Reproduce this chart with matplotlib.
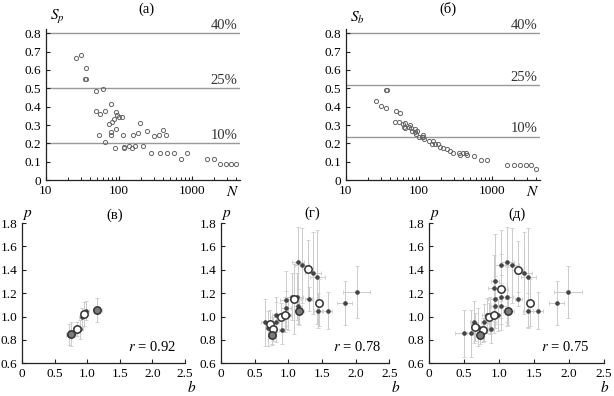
import numpy as np
import matplotlib.pyplot as plt
from matplotlib.ticker import FixedLocator, FixedFormatter, NullFormatter

plt.rcParams['font.family'] = ['Liberation Serif', 'DejaVu Serif']
plt.rcParams['mathtext.fontset'] = 'stix'
plt.rcParams['font.size'] = 9

W, H = 614, 396

# ---- (а): S_p vs N
n_a = [26, 30, 36, 34.5, 35.5, 48, 60.5, 49, 54.5, 64, 53, 65, 72, 77, 77,
       77, 80, 85.5, 91, 94, 91, 88, 99, 110, 113.5, 116, 116, 137, 150, 155,
       164, 182, 195, 210, 238, 270, 297, 359, 355, 398, 433, 451, 556, 693,
       846, 1585, 1972, 2360, 2850, 3370, 3980]
sp_a = [0.664, 0.682, 0.613, 0.553, 0.553, 0.484, 0.496, 0.376, 0.362, 0.376,
        0.245, 0.209, 0.307, 0.415, 0.264, 0.245, 0.316, 0.331, 0.373, 0.355,
        0.278, 0.175, 0.342, 0.345, 0.245, 0.182, 0.173, 0.187, 0.176, 0.245,
        0.187, 0.255, 0.309, 0.187, 0.269, 0.145, 0.238, 0.145, 0.245, 0.273,
        0.245, 0.145, 0.145, 0.116, 0.145, 0.116, 0.116, 0.089, 0.089, 0.089,
        0.089]
lines_a = [0.8, 0.5, 0.2]

# ---- (б): S_b vs N
n_b = [26, 30, 35, 37, 36, 48, 54.5, 47.5, 53, 61, 65, 63, 65, 72, 76, 78, 81,
       87, 89, 91, 94, 100, 110, 112, 116, 114, 137, 153, 150, 164, 179, 195,
       210, 238, 267, 293, 351, 359, 398, 433, 446, 556, 693, 846, 1585, 1950,
       2360, 2850, 3370, 3980]
sb_b = [0.433, 0.404, 0.489, 0.489, 0.393, 0.375, 0.365, 0.318, 0.318, 0.307,
        0.309, 0.291, 0.282, 0.291, 0.300, 0.282, 0.269, 0.280, 0.264, 0.251,
        0.265, 0.235, 0.233, 0.245, 0.222, 0.236, 0.215, 0.215, 0.196, 0.196,
        0.195, 0.182, 0.176, 0.169, 0.160, 0.149, 0.149, 0.138, 0.149, 0.149,
        0.138, 0.129, 0.109, 0.109, 0.082, 0.082, 0.082, 0.082, 0.082, 0.062]
lines_b = [0.8, 0.518, 0.236]

pct_labels = ['40%', '25%', '10%']
top_yticks = [0, 0.1, 0.2, 0.3, 0.4, 0.5, 0.6, 0.7, 0.8]
top_ylabels = ['0', '0.1', '0.2', '0.3', '0.4', '0.5', '0.6', '0.7', '0.8']

# ---- (в)
v_dot_b = [0.71, 0.886, 0.912, 0.978]
v_dot_p = [0.843, 0.891, 0.994, 1.049]
v_dot_xe = [0.04, 0.05, 0.04, 0.04]
v_dot_ye = [0.09, 0.08, 0.08, 0.08]
v_open_b = [0.835, 0.948]
v_open_p = [0.894, 1.023]
v_open_xe = [0.06, 0.04]
v_open_ye = [0.06, 0.1]
v_grey_b = [0.748, 1.153]
v_grey_p = [0.849, 1.057]
v_grey_xe = [0.07, 0.07]
v_grey_ye = [0.1, 0.1]

# ---- (г)
g_dot_b = [0.653, 0.70, 0.817, 0.817, 0.752, 0.90, 0.965, 0.96, 0.99, 1.06,
           1.124, 1.149, 1.20, 1.371, 1.43, 1.30, 1.14, 1.446, 1.584, 1.84, 2.015]
g_dot_p = [0.951, 0.90, 0.951, 1.014, 0.877, 0.886, 1.071, 1.143, 1.014, 1.171,
           1.171, 1.466, 1.437, 1.371, 1.337, 1.149, 1.086, 1.05, 1.05, 1.114, 1.209]
g_dot_xe = [0.06, 0.04, 0.05, 0.06, 0.04, 0.04, 0.07, 0.08, 0.05, 0.1,
            0.1, 0.09, 0.1, 0.12, 0.11, 0.05, 0.06, 0.06, 0.07, 0.11, 0.2]
g_dot_ye = [0.2, 0.15, 0.17, 0.15, 0.12, 0.12, 0.15, 0.25, 0.13, 0.2,
            0.2, 0.3, 0.32, 0.35, 0.4, 0.1, 0.15, 0.15, 0.16, 0.19, 0.22]
g_open_b = [0.728, 0.777, 0.89, 0.95, 1.09, 1.29, 1.46]
g_open_p = [0.937, 0.894, 1.0, 1.014, 1.149, 1.406, 1.12]
g_open_xe = [0.05, 0.04, 0.05, 0.05, 0.1, 0.08, 0.05]
g_open_ye = [0.12, 0.1, 0.12, 0.15, 0.3, 0.25, 0.2]
g_grey_b = [0.752, 1.158]
g_grey_p = [0.843, 1.05]
g_grey_xe = [0.04, 0.08]
g_grey_ye = [0.08, 0.12]

# ---- (д)
d_dot_b = [0.50, 0.595, 0.64, 0.70, 0.786, 0.824, 0.886, 0.87, 0.98, 0.943,
           0.938, 0.93, 0.943, 1.024, 1.03, 1.03, 1.114, 1.119, 1.18, 1.357,
           1.419, 1.276, 1.11, 1.419, 1.562, 1.824, 1.99]
d_dot_p = [0.857, 0.857, 0.95, 0.91, 0.95, 1.01, 0.891, 1.01, 1.014, 1.086,
           1.149, 1.243, 1.306, 1.437, 1.171, 1.086, 1.171, 1.466, 1.437, 1.371,
           1.334, 1.149, 1.05, 1.05, 1.05, 1.114, 1.209]
d_dot_xe = [0.13, 0.05, 0.06, 0.05, 0.05, 0.06, 0.04, 0.05, 0.05, 0.06,
            0.1, 0.09, 0.06, 0.1, 0.1, 0.08, 0.09, 0.09, 0.1, 0.12,
            0.11, 0.05, 0.06, 0.07, 0.07, 0.11, 0.2]
d_dot_ye = [0.2, 0.2, 0.18, 0.16, 0.16, 0.15, 0.12, 0.16, 0.14, 0.15,
            0.2, 0.28, 0.4, 0.3, 0.18, 0.2, 0.25, 0.3, 0.32, 0.35,
            0.42, 0.06, 0.1, 0.15, 0.16, 0.19, 0.22]
d_open_b = [0.66, 0.77, 0.86, 0.93, 1.03, 1.267, 1.443]
d_open_p = [0.91, 0.886, 1.0, 1.01, 1.234, 1.40, 1.12]
d_open_xe = [0.05, 0.04, 0.05, 0.05, 0.1, 0.08, 0.05]
d_open_ye = [0.12, 0.1, 0.12, 0.15, 0.3, 0.25, 0.2]
d_grey_b = [0.73, 1.13]
d_grey_p = [0.843, 1.05]
d_grey_xe = [0.04, 0.08]
d_grey_ye = [0.08, 0.12]

bot_xticks = [0, 0.5, 1.0, 1.5, 2.0, 2.5]
bot_xlabels = ['0', '0.5', '1.0', '1.5', '2.0', '2.5']
bot_yticks = [0.6, 0.8, 1.0, 1.2, 1.4, 1.6, 1.8]
bot_ylabels = ['0.6', '0.8', '1.0', '1.2', '1.4', '1.6', '1.8']


def px_rect(x0, y0, x1, y1):
  return [x0 / W, 1 - y1 / H, (x1 - x0) / W, (y1 - y0) / H]


def style_axes(ax):
  for s in ['top', 'right']:
    ax.spines[s].set_visible(False)
  for s in ['left', 'bottom']:
    ax.spines[s].set_linewidth(0.9)
    ax.spines[s].set_color('#222')
  ax.tick_params(direction='in', length=3, width=0.8, colors='#222',
                 labelcolor='black', labelsize=9.5, pad=3.5)
  ax.tick_params(which='minor', direction='in', length=2, width=0.7, colors='#222')


def top_panel(rect, n, s, lines, ylab):
  ax = fig.add_axes(rect)
  ax.set_xscale('log')
  for yl, lab in zip(lines, pct_labels):
    ax.axhline(yl, color='#999', lw=1, zorder=0)
    ax.text(0.985, yl + 0.008, lab, transform=ax.get_yaxis_transform(),
            ha='right', va='bottom', fontsize=10.5, color='#333')
  ax.plot(n, s, 'o', ms=3.0, mfc='none', mec='#666', mew=0.7, clip_on=False)
  ax.set_xlim(10, 4500)
  ax.set_ylim(0, 0.822)
  ax.xaxis.set_major_locator(FixedLocator([10, 100, 1000]))
  ax.xaxis.set_major_formatter(FixedFormatter(['10', '100', '1000']))
  minors = [m * d for d in (10, 100, 1000) for m in range(2, 10) if m * d < 4500]
  ax.xaxis.set_minor_locator(FixedLocator(minors))
  ax.xaxis.set_minor_formatter(NullFormatter())
  ax.yaxis.set_major_locator(FixedLocator(top_yticks))
  ax.yaxis.set_major_formatter(FixedFormatter(top_ylabels))
  style_axes(ax)
  ax.text(0.02, 1.02, ylab, transform=ax.transAxes, ha='left', va='bottom',
          fontsize=11)
  ax.text(3600, -0.025, '$N$', ha='center', va='top', fontsize=11)
  return ax


def bottom_panel(rect, dots, opens, greys, rtext, rx, bx, px):
  ax = fig.add_axes(rect)
  for b, p, xe, ye in (dots, opens, greys):
    ax.errorbar(b, p, xerr=xe, yerr=ye, fmt='none', ecolor='#cccccc',
                elinewidth=0.75, capsize=1.5, capthick=0.6, zorder=1)
  ax.plot(dots[0], dots[1], 'o', ms=2.3, color='#444', zorder=3)
  ax.plot(opens[0], opens[1], 'o', ms=5.3, mfc='white', mec='#333', mew=1.1, zorder=4)
  ax.plot(greys[0], greys[1], 'o', ms=5.3, mfc='#7a7a7a', mec='#333', mew=1.1, zorder=4)
  ax.set_xlim(0, 2.5)
  ax.set_ylim(0.6, 1.8)
  ax.xaxis.set_major_locator(FixedLocator(bot_xticks))
  ax.xaxis.set_major_formatter(FixedFormatter(bot_xlabels))
  ax.yaxis.set_major_locator(FixedLocator(bot_yticks))
  ax.yaxis.set_major_formatter(FixedFormatter(bot_ylabels))
  style_axes(ax)
  ax.text(rx, 0.116, '$r$ = ' + rtext, transform=ax.transAxes, ha='center',
          va='center', fontsize=10.5)
  ax.text(bx, -0.17, '$b$', transform=ax.transAxes, ha='center', va='center',
          fontsize=11)
  ax.text(px, 1.055, '$p$', transform=ax.transAxes, ha='center', va='center',
          fontsize=11)
  return ax


fig = plt.figure(figsize=(W / 100, H / 100), dpi=100)

top_panel(px_rect(45.7, 29.3, 240.2, 180), n_a, sp_a, lines_a, '$S_p$')
top_panel(px_rect(345.7, 29.3, 540.2, 180), n_b, sb_b, lines_b, '$S_b$')

bottom_panel(px_rect(22.3, 223, 185, 363.3),
             (v_dot_b, v_dot_p, v_dot_xe, v_dot_ye),
             (v_open_b, v_open_p, v_open_xe, v_open_ye),
             (v_grey_b, v_grey_p, v_grey_xe, v_grey_ye), '0.92', 0.797, 1.043, 0.03)
bottom_panel(px_rect(221, 223, 389.3, 363.3),
             (g_dot_b, g_dot_p, g_dot_xe, g_dot_ye),
             (g_open_b, g_open_p, g_open_xe, g_open_ye),
             (g_grey_b, g_grey_p, g_grey_xe, g_grey_ye), '0.78', 0.808, 1.04, 0.03)
bottom_panel(px_rect(429, 223, 604, 363.3),
             (d_dot_b, d_dot_p, d_dot_xe, d_dot_ye),
             (d_open_b, d_open_p, d_open_xe, d_open_ye),
             (d_grey_b, d_grey_p, d_grey_xe, d_grey_ye), '0.75', 0.777, 1.006, 0.03)

titles = ['(а)', '(б)', '(в)', '(г)', '(д)']
title_pos = [(146, 9), (448, 9), (115, 215), (312, 213), (517, 214)]
for t, (tx, ty) in zip(titles, title_pos):
  fig.text(tx / W, 1 - ty / H, t, ha='center', va='center', fontsize=10.5)

fig.savefig('out.png', dpi=100)
